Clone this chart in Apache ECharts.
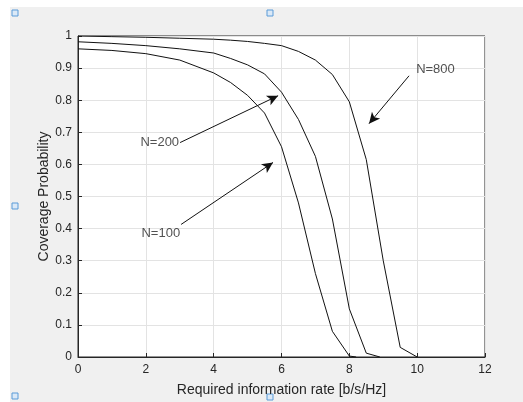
<!DOCTYPE html>
<html>
<head>
<meta charset="utf-8">
<script src="https://cdn.jsdelivr.net/npm/echarts@6/dist/echarts.min.js"></script>
<style>
  body { margin: 0; background: #fff; }
  #bg { position: absolute; left: 10px; top: 7px; width: 513px; height: 395px; background: #f0f0f0; }
  #chart { position: absolute; left: 0; top: 0; width: 523px; height: 402px; }
</style>
</head>
<body>
<div id="bg"></div>
<div id="chart"></div>
<script>
// curves, [rate, probability]
const n100 = [[0, 0.96], [1, 0.955], [2, 0.945], [3, 0.925], [4, 0.885], [4.5, 0.855], [5, 0.815],
  [5.5, 0.76], [6, 0.655], [6.5, 0.48], [7, 0.26], [7.5, 0.08], [8, 0.003], [8.2, 0]]
const n200 = [[0, 0.982], [1, 0.977], [2, 0.97], [3, 0.96], [4, 0.947], [4.5, 0.93], [5, 0.91],
  [5.5, 0.882], [6, 0.825], [6.5, 0.74], [7, 0.625], [7.5, 0.43], [8, 0.15], [8.5, 0.012], [8.9, 0]]
const n800 = [[0, 1.0], [1, 0.998], [2, 0.996], [3, 0.993], [4, 0.99], [4.5, 0.987], [5, 0.983],
  [5.5, 0.977], [6, 0.97], [6.5, 0.952], [7, 0.925], [7.5, 0.88], [8, 0.795], [8.5, 0.615],
  [9, 0.3], [9.5, 0.03], [10, 0]]

// annotations (data coords)
const noteNames = ['N=100', 'N=200', 'N=800']
const noteAnchors = [[3.04, 0.385], [3.01, 0.668], [9.94, 0.897]]
const arrowFrom = [[3.04, 0.413], [3.01, 0.668], [9.76, 0.876]]
const arrowTo = [[5.75, 0.606], [5.9, 0.814], [8.58, 0.727]]

const xTicks = [0, 2, 4, 6, 8, 10, 12]
const yTicks = [0, 0.1, 0.2, 0.3, 0.4, 0.5, 0.6, 0.7, 0.8, 0.9, 1]

const font = 'Liberation Sans, Arial, sans-serif'
const textColor = '#262626'

const chart = echarts.init(document.getElementById('chart'))

function curve(name, data) {
  return {
    name: name,
    type: 'line',
    data: data,
    symbol: 'none',
    lineStyle: { color: '#111', width: 1 },
    silent: true,
    animation: false
  }
}

function handle(x, y) {
  return {
    type: 'rect',
    shape: { x: x - 3, y: y - 3, width: 6, height: 6 },
    style: { fill: '#dbe9f7', stroke: '#5a9bd8', lineWidth: 1 }
  }
}

const arrows = noteNames.map((n, i) => [{ coord: arrowFrom[i] }, { coord: arrowTo[i] }])

chart.setOption({
  animation: false,
  grid: {
    left: 78, right: 38, top: 36, bottom: 44,
    show: true,
    backgroundColor: '#fff',
    borderColor: '#262626',
    borderWidth: 1
  },
  xAxis: {
    type: 'value',
    min: 0, max: 12, interval: 2,
    name: 'Required information rate [b/s/Hz]',
    nameLocation: 'middle',
    nameGap: 26,
    nameMoveOverlap: false,
    nameTextStyle: { fontFamily: font, fontSize: 14, color: textColor },
    axisLine: { show: true, lineStyle: { color: '#262626' } },
    axisTick: { show: true, inside: true, length: 4, lineStyle: { color: '#262626' } },
    axisLabel: {
      fontFamily: font, fontSize: 12, color: textColor, margin: 7,
      formatter: v => xTicks.includes(v) ? String(v) : ''
    },
    splitLine: { show: true, lineStyle: { color: '#e3e3e3', width: 1 } }
  },
  yAxis: {
    type: 'value',
    min: 0, max: 1, interval: 0.1,
    name: 'Coverage Probability',
    nameLocation: 'middle',
    nameGap: 27,
    nameMoveOverlap: false,
    nameTextStyle: { fontFamily: font, fontSize: 14, color: textColor },
    axisLine: { show: true, lineStyle: { color: '#262626' } },
    axisTick: { show: true, inside: true, length: 4, lineStyle: { color: '#262626' } },
    axisLabel: {
      fontFamily: font, fontSize: 12, color: textColor, margin: 6,
      formatter: v => {
        const t = yTicks.find(k => Math.abs(k - v) < 1e-6)
        return t === undefined ? '' : String(t)
      }
    },
    splitLine: { show: true, lineStyle: { color: '#e3e3e3', width: 1 } }
  },
  series: [
    curve('N=100', n100),
    curve('N=200', n200),
    curve('N=800', n800),
    {
      name: 'arrows',
      type: 'line',
      data: [],
      markLine: {
        silent: true,
        animation: false,
        symbol: ['none', 'arrow'],
        symbolSize: [8, 11],
        label: { show: false },
        lineStyle: { color: '#111', width: 1, type: 'solid' },
        data: arrows
      }
    },
    {
      name: 'notes',
      type: 'scatter',
      symbolSize: 0,
      silent: true,
      data: noteNames.map((n, i) => ({
        value: noteAnchors[i],
        label: { position: i === 2 ? 'right' : 'left', distance: 1 }
      })),
      label: {
        show: true,
        fontFamily: font,
        fontSize: 13,
        color: textColor,
        formatter: p => noteNames[p.dataIndex]
      }
    }
  ],
  graphic: [
    handle(15, 13),
    handle(270, 13),
    handle(15, 206),
    handle(15, 396),
    handle(270, 397)
  ]
})
</script>
</body>
</html>
